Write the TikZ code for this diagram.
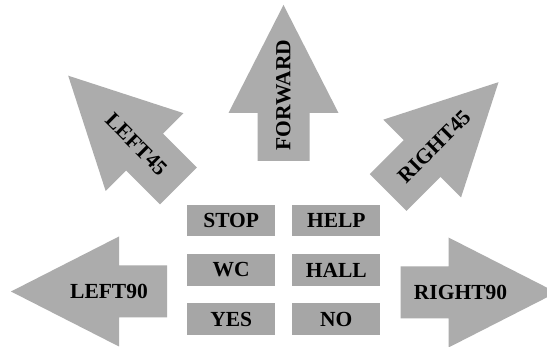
\documentclass[tikz,border=0pt]{standalone}
\usepackage{fontspec}
\setmainfont{Liberation Serif}
\definecolor{arrowgray}{RGB}{172,172,172}
\definecolor{boxgray}{RGB}{166,166,166}
\tikzset{
  lab/.style={font=\fontsize{21.5}{25}\selectfont\bfseries, text=black, inner sep=0pt},
  cmdbox/.style={fill=boxgray, minimum width=88pt, minimum height=31.5pt, inner sep=0pt,
                 font=\fontsize{21.5}{25}\selectfont\bfseries},
  % block arrow pointing along local +x, starting at the shaft end (0,0)
  pics/dirarrow/.style args={#1/#2/#3}{code={
    \fill[arrowgray] (0,-26) -- (48,-26) -- (48,-55) -- (156,0) -- (48,55) -- (48,26) -- (0,26) -- cycle;
    \node[lab, rotate=#2] (-label) at (#3,0) {#1};
  }}
}
\begin{document}
\begin{tikzpicture}[x=1pt, y=-1pt]
  \clip (0,0) rectangle (547,347);
  \fill[white] (0,0) rectangle (547,347);

  % direction arrows
  \pic (fw) [rotate=90]  at (283.5,161)   {dirarrow={FORWARD/90/66}};
  \pic (l45) [rotate=135] at (178.5,186)  {dirarrow={LEFT45/-45/59}};
  \pic (r45) [rotate=45]  at (388.2,192.5) {dirarrow={RIGHT45/45/65}};
  \pic (l90) [rotate=180] at (167,291.5)  {dirarrow={LEFT90/0/58}};
  \pic (r90) [rotate=0]   at (400.5,292.5) {dirarrow={RIGHT90/0/60}};

  % command buttons
  \node[cmdbox] (stop) at (231.2,220.5) {STOP};
  \node[cmdbox] (help) at (336.3,220.5) {HELP};
  \node[cmdbox] (wc)   at (231.2,270)   {WC};
  \node[cmdbox] (hall) at (336.3,270)   {HALL};
  \node[cmdbox] (yes)  at (231.2,319.2) {YES};
  \node[cmdbox] (no)   at (336.3,319.2) {NO};
\end{tikzpicture}
\end{document}
